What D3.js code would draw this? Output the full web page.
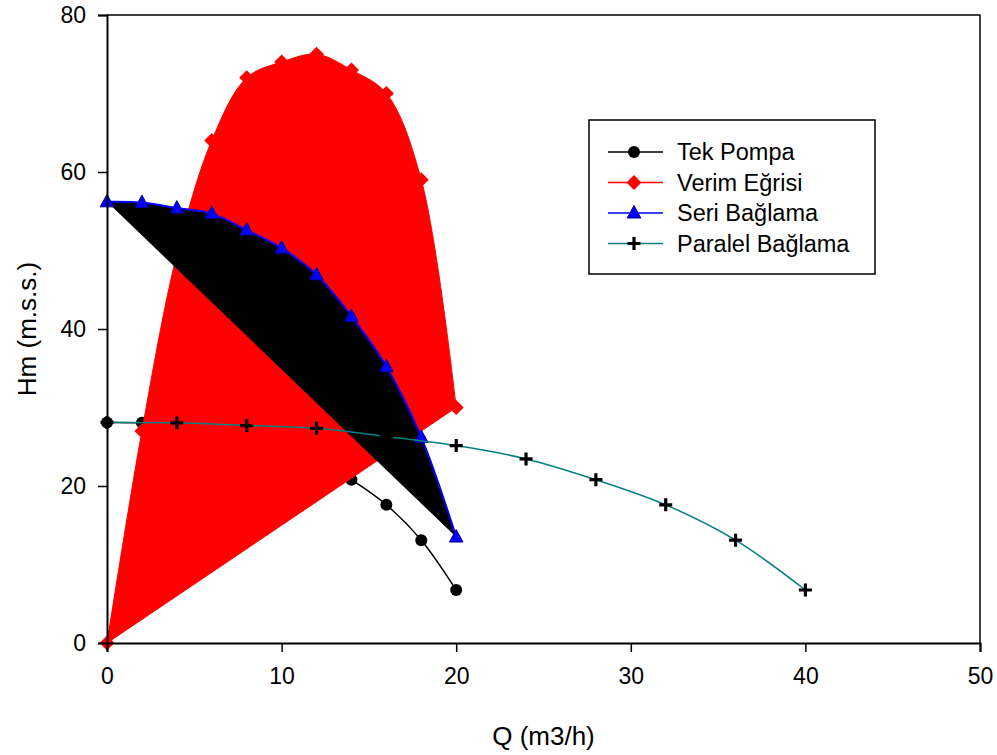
<!DOCTYPE html>
<html>
<head>
<meta charset="utf-8">
<script src="https://cdn.jsdelivr.net/npm/d3@7"></script>
<style>
  body { margin: 0; background: #fff; }
  svg text { font-family: Arial, "Liberation Sans", sans-serif; fill: #000; }
</style>
</head>
<body>
<div id="chart"></div>
<script>
// pompa karakteristik eğrileri
const qTek = [0, 2, 4, 6, 8, 10, 12, 14, 16, 18, 20];
const hTek = [28.1, 28.05, 27.7, 27.35, 26.3, 25.15, 23.45, 20.8, 17.6, 13.1, 6.75];
const hVerim = [0, 27, 49.5, 64, 72, 74, 75, 73, 70, 59, 30];
const hSeri = [56.2, 56.1, 55.4, 54.7, 52.6, 50.3, 46.9, 41.6, 35.2, 26.2, 13.5];
const qParalel = [0, 4, 8, 12, 16, 20, 24, 28, 32, 36, 40];
const hParalel = [28.1, 28.05, 27.7, 27.35, 26.3, 25.15, 23.45, 20.8, 17.6, 13.1, 6.75];

const xTicks = [0, 10, 20, 30, 40, 50];
const yTicks = [0, 20, 40, 60, 80];
const seriesNames = ['Tek Pompa', 'Verim Eğrisi', 'Seri Bağlama', 'Paralel Bağlama'];

const width = 997, height = 755;
const margin = { top: 15, right: 17, bottom: 112, left: 107 };
const innerW = width - margin.left - margin.right;
const innerH = height - margin.top - margin.bottom;

const svg = d3.select('#chart').append('svg')
    .attr('width', width)
    .attr('height', height);

const g = svg.append('g')
    .attr('transform', `translate(${margin.left},${margin.top})`);

const x = d3.scaleLinear().domain([0, 50]).range([0, innerW]);
const y = d3.scaleLinear().domain([0, 80]).range([innerH, 0]);

const tek = qTek.map((q, i) => [q, hTek[i]]);
const verim = qTek.map((q, i) => [q, hVerim[i]]);
const seri = qTek.map((q, i) => [q, hSeri[i]]);
const paralel = qParalel.map((q, i) => [q, hParalel[i]]);

const line = d3.line()
    .x(d => x(d[0]))
    .y(d => y(d[1]))
    .curve(d3.curveCatmullRom.alpha(0.5));

// işaretçiler
function circleMark(sel) {
    sel.append('circle').attr('r', 6).attr('fill', '#000');
}
function diamondMark(sel) {
    sel.append('path').attr('d', 'M0,-7.5L7.5,0L0,7.5L-7.5,0Z').attr('fill', '#ff0000');
}
function triangleMark(sel) {
    sel.append('path').attr('d', 'M0,-7.5L6.8,5L-6.8,5Z')
        .attr('fill', '#0000ff').attr('stroke', '#00008b').attr('stroke-width', 1);
}
function crossMark(sel) {
    sel.append('path').attr('d', 'M-6.5,0H6.5M0,-6.5V6.5')
        .attr('stroke', '#000').attr('stroke-width', 3.2).attr('fill', 'none');
}

function drawMarkers(data, fn) {
    g.append('g').selectAll('g')
        .data(data)
        .enter()
        .append('g')
        .attr('transform', d => `translate(${x(d[0])},${y(d[1])})`)
        .each(function () { fn(d3.select(this)); });
}

// Tek pompa (en altta)
g.append('path').attr('d', line(tek))
    .attr('fill', 'none').attr('stroke', '#000').attr('stroke-width', 1.5);
drawMarkers(tek, circleMark);

// Verim eğrisi - dolu alan
g.append('path').attr('d', line(verim) + 'Z')
    .attr('fill', '#ff0000').attr('stroke', '#ff0000').attr('stroke-width', 1);
drawMarkers(verim, diamondMark);

// Seri bağlama - siyah dolgu
g.append('path').attr('d', line(seri) + 'Z')
    .attr('fill', '#000').attr('stroke', 'none');
g.append('path').attr('d', line(seri))
    .attr('fill', 'none').attr('stroke', '#0000ff').attr('stroke-width', 2);
drawMarkers(seri, triangleMark);

// Paralel bağlama
g.append('path').attr('d', line(paralel))
    .attr('fill', 'none').attr('stroke', '#008080').attr('stroke-width', 1.5);
drawMarkers(paralel, crossMark);

// çerçeve
g.append('path')
    .attr('d', `M0,0H${innerW}V${innerH}`)
    .attr('fill', 'none').attr('stroke', '#000').attr('stroke-width', 1.5);

// eksenler
const xAxis = g.append('g')
    .attr('transform', `translate(0,${innerH})`)
    .call(d3.axisBottom(x).tickValues(xTicks).tickSize(9).tickPadding(16).tickFormat(d3.format('d')));
const yAxis = g.append('g')
    .call(d3.axisLeft(y).tickValues(yTicks).tickSize(9).tickPadding(12).tickFormat(d3.format('d')));

[xAxis, yAxis].forEach(a => {
    a.select('.domain').attr('stroke', '#000').attr('stroke-width', 2);
    a.selectAll('.tick line').attr('stroke', '#000').attr('stroke-width', 1.5);
    a.selectAll('.tick text')
        .style('font-size', '23px')
        .style('font-family', 'Arial, "Liberation Sans", sans-serif')
        .attr('fill', '#000');
});

// eksen başlıkları
svg.append('text')
    .attr('x', margin.left + innerW / 2)
    .attr('y', 745)
    .attr('text-anchor', 'middle')
    .style('font-size', '26px')
    .text('Q (m3/h)');

svg.append('text')
    .attr('transform', 'rotate(-90)')
    .attr('x', -(margin.top + innerH / 2))
    .attr('y', 36)
    .attr('text-anchor', 'middle')
    .style('font-size', '26px')
    .text('Hm (m.s.s.)');

// lejant
const legend = svg.append('g').attr('transform', 'translate(589,120)');
legend.append('rect')
    .attr('width', 286).attr('height', 154)
    .attr('fill', '#fff').attr('stroke', '#000').attr('stroke-width', 1.5);

const legendStyles = [
    { color: '#000', mark: circleMark },
    { color: '#ff0000', mark: diamondMark },
    { color: '#0000ff', mark: triangleMark },
    { color: '#008080', mark: crossMark }
];

seriesNames.forEach((name, i) => {
    const row = legend.append('g').attr('transform', `translate(0,${32 + i * 30.5})`);
    row.append('line')
        .attr('x1', 19).attr('x2', 74)
        .attr('stroke', legendStyles[i].color).attr('stroke-width', 1.5);
    const m = row.append('g').attr('transform', 'translate(45,0)');
    legendStyles[i].mark(m);
    row.append('text')
        .attr('x', 88)
        .attr('y', 8)
        .style('font-size', '23.5px')
        .text(name);
});
</script>
</body>
</html>
